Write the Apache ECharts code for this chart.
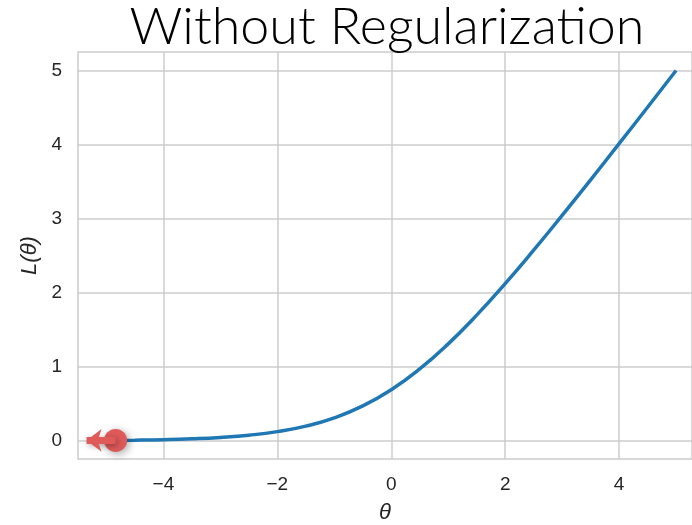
<!DOCTYPE html>
<html><head><meta charset="utf-8">
<script src="https://cdn.jsdelivr.net/npm/echarts@6/dist/echarts.min.js"></script>
<style>html,body{margin:0;padding:0;background:#fff}#c{width:692px;height:525px}</style>
</head><body><div id="c"></div>
<script>
const thetas = [-5,-4.5,-4,-3.5,-3,-2.5,-2,-1.5,-1,-0.5,0,0.5,1,1.5,2,2.5,3,3.5,4,4.5,5];
const losses = [0.007,0.011,0.018,0.030,0.049,0.079,0.127,0.201,0.313,0.474,0.693,0.974,1.313,1.701,2.127,2.579,3.049,3.530,4.018,4.511,5.007];
const pointTheta = [-4.84];
const pointLoss = [0.008];
const arrowTip = [-5.35];
const xTicks = [-4,-2,0,2,4];
const yTicks = [0,1,2,3,4,5];
const titleText = 'Without Regularization';

const chart = echarts.init(document.getElementById('c'));
const gridColor = '#cccccc';
const txt = '#262626';
chart.setOption({
  animation:false,
  title:{text:titleText,left:382,top:-4,textAlign:'center',
    textStyle:{fontFamily:'Lato',fontWeight:300,fontSize:52,color:'#000'}},
  grid:{left:78,top:52,right:0,bottom:66,show:true,borderColor:gridColor,borderWidth:1.5,
    containLabel:false,outerBoundsMode:'none'},
  xAxis:{type:'value',min:-5.5,max:5.28,
    name:'θ',nameLocation:'middle',nameGap:43,
    nameTextStyle:{fontFamily:'Liberation Sans',fontStyle:'italic',fontSize:22,color:txt},
    axisLine:{show:false},axisTick:{show:false,customValues:xTicks},
    axisLabel:{fontFamily:'Liberation Sans',fontSize:19,color:txt,margin:16,customValues:xTicks,
      formatter:v=>String(v).replace('-','\u2212')},
    splitLine:{show:true,lineStyle:{color:gridColor,width:1.5}}},
  yAxis:{type:'value',min:-0.243,max:5.257,
    name:'L(θ)',nameLocation:'middle',nameGap:36,nameRotate:90,
    nameTextStyle:{fontFamily:'Liberation Sans',fontStyle:'italic',fontSize:22,color:txt},
    axisLine:{show:false},axisTick:{show:false,customValues:yTicks},
    axisLabel:{fontFamily:'Liberation Sans',fontSize:19,color:txt,margin:16,customValues:yTicks,
      formatter:v=>String(v)},
    splitLine:{show:true,lineStyle:{color:gridColor,width:1.5}}},
  series:[
    {type:'line',data:thetas.map((t,i)=>[t,losses[i]]),smooth:true,showSymbol:false,
     lineStyle:{color:'#1f77b4',width:3.5},z:2},
    {type:'line',data:[],markLine:{silent:true,symbol:['none','arrow'],symbolSize:[17,15],
      label:{show:false},
      lineStyle:{color:'#e05a5a',width:7,type:'solid',shadowBlur:6,shadowColor:'rgba(0,0,0,0.35)',shadowOffsetX:2,shadowOffsetY:2},
      data:[[{coord:[pointTheta[0],pointLoss[0]]},{coord:[arrowTip[0],pointLoss[0]]}]]},z:3},
    {type:'scatter',data:pointTheta.map((t,i)=>[t,pointLoss[i]]),symbolSize:23,
     itemStyle:{color:'#e05a5a',opacity:1,shadowBlur:8,shadowColor:'rgba(0,0,0,0.35)',shadowOffsetX:2,shadowOffsetY:2},z:4}
  ]
});
</script></body></html>
